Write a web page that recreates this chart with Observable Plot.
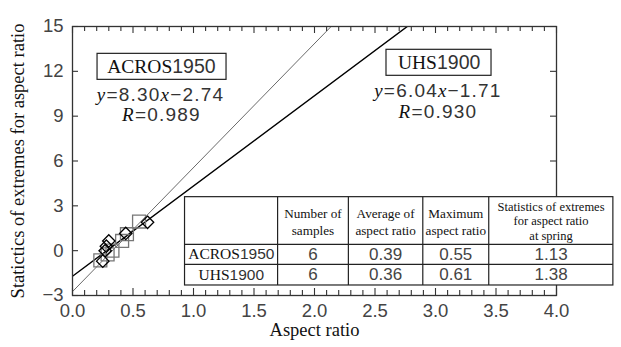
<!DOCTYPE html>
<html><head><meta charset="utf-8">
<script src="https://cdn.jsdelivr.net/npm/d3@7"></script>
<script src="https://cdn.jsdelivr.net/npm/@observablehq/plot@0.6"></script>
<style>body{margin:0;background:#fff}</style>
</head><body><div id="chart"></div>
<script>
// ---- data ----
const seriesNames = ["ACROS1950", "UHS1900"];
const acrosX = [0.23, 0.29, 0.33, 0.41, 0.45, 0.55];
const acrosY = [-0.65, -0.25, 0.0, 0.65, 1.1, 1.95];
const uhsX = [0.25, 0.27, 0.28, 0.30, 0.44, 0.62];
const uhsY = [-0.7, 0.0, 0.3, 0.65, 1.15, 1.9];
const slopes = [8.30, 6.04];
const intercepts = [-2.74, -1.71];
const rValues = ["0.989", "0.930"];
const xTickLabels = [0, 0.5, 1, 1.5, 2, 2.5, 3, 3.5, 4];
const yTickLabels = [-3, 0, 3, 6, 9, 12, 15];
const xMinorTicks = [0,0.1,0.2,0.3,0.4,0.5,0.6,0.7,0.8,0.9,1,1.1,1.2,1.3,1.4,1.5,1.6,1.7,1.8,1.9,2,2.1,2.2,2.3,2.4,2.5,2.6,2.7,2.8,2.9,3,3.1,3.2,3.3,3.4,3.5,3.6,3.7,3.8,3.9,4];
const tableHeaders = ["", "Number of\nsamples", "Average of\naspect ratio", "Maximum\naspect ratio", "Statistics of extremes\nfor aspect ratio\nat spring"];
const tableRows = [
  ["ACROS1950", "6", "0.39", "0.55", "1.13"],
  ["UHS1900", "6", "0.36", "0.61", "1.38"]
];
const xLabel = "Aspect ratio";
const yLabel = "Statictics of extremes for aspect ratio";

// ---- derived tables ----
const acros = acrosX.map((x, i) => ({x, y: acrosY[i]}));
const uhs = uhsX.map((x, i) => ({x, y: uhsY[i]}));
const fitLines = seriesNames.flatMap((s, i) => [0, 4].map(x => ({s, x, y: slopes[i] * x + intercepts[i]})));
const fmt = v => v.toFixed(2);
const eqText = seriesNames.map((s, i) => `y=${fmt(slopes[i])}x−${fmt(-intercepts[i])}`);
const rText = rValues.map(r => `R=${r}`);

// ---- layout (data units of the frame) ----
const colB = [0.93, 1.695, 2.28, 2.895, 3.44, 4.47];
const rowB = [3.58, 0.42, -0.92, -2.33];
const colC = colB.slice(0, -1).map((b, i) => (b + colB[i + 1]) / 2);
const rowC = rowB.slice(0, -1).map((b, i) => (b + rowB[i + 1]) / 2);
const headerCells = tableHeaders.map((t, j) => ({t, x: colC[j], y: rowC[0]})).filter(d => d.t);
const bodyCells = tableRows.flatMap((r, i) => r.map((t, j) => ({t, x: colC[j], y: rowC[i + 1], label: j === 0})));

const SERIF = "'Liberation Serif', 'Times New Roman', serif";
const SANS = "'Liberation Sans', Arial, sans-serif";
const hx = 6 / 121, vMinor = 5 / 14.94, vMajor = 7 / 14.94;
const isMajor = d => Math.abs(d * 2 - Math.round(d * 2)) < 1e-6;

const chart = Plot.plot({
  width: 621, height: 347,
  marginLeft: 72, marginRight: 65, marginTop: 26, marginBottom: 52,
  x: {domain: [0, 4]},
  y: {domain: [-3, 15]},
  style: {fontFamily: SANS, background: "#fff"},
  marks: [
    Plot.line(fitLines.filter(d => d.s === seriesNames[0]), {x: "x", y: "y", stroke: "#6a6a6a", strokeWidth: 1, clip: true}),
    Plot.line(fitLines.filter(d => d.s === seriesNames[1]), {x: "x", y: "y", stroke: "#000", strokeWidth: 1.4, clip: true}),
    Plot.dot(acros, {x: "x", y: "y", symbol: "square", r: 7.3, stroke: "#777", strokeWidth: 1.3, fill: "none"}),
    Plot.dot(uhs, {x: "x", y: "y", symbol: "diamond2", r: 5.6, stroke: "#000", strokeWidth: 1.3, fill: "none"}),
    Plot.frame({stroke: "#333", strokeWidth: 1.3}),
    // inward ticks
    Plot.ruleX(xMinorTicks, {x: d => d, y1: -3, y2: d => -3 + (isMajor(d) ? vMajor : vMinor), stroke: "#333", strokeWidth: 1.1}),
    Plot.ruleX(xMinorTicks, {x: d => d, y1: 15, y2: d => 15 - (isMajor(d) ? vMajor : vMinor), stroke: "#333", strokeWidth: 1.1}),
    Plot.ruleY(yTickLabels, {y: d => d, x1: 0, x2: hx, stroke: "#333", strokeWidth: 1.1}),
    Plot.ruleY(yTickLabels, {y: d => d, x1: 4, x2: 4 - hx, stroke: "#333", strokeWidth: 1.1}),
    Plot.axisX({ticks: xTickLabels, tickSize: 0, tickPadding: 8, tickFormat: d3.format(".1f"), fontSize: 18.5, label: null, color: "#444"}),
    Plot.axisY({ticks: yTickLabels, tickSize: 0, tickPadding: 9, tickFormat: d3.format("d"), fontSize: 18.5, label: null, color: "#444"}),
    Plot.text([yLabel], {text: d => d, frameAnchor: "left", textAnchor: "middle", dx: -54, rotate: -90, fontSize: 18.5, fontFamily: SERIF, fill: "#111"}),
    Plot.text([xLabel], {text: d => d, frameAnchor: "bottom", textAnchor: "middle", dy: 40, fontSize: 18.5, fontFamily: SERIF, fill: "#111"}),
    // annotation boxes
    Plot.rect([0], {x1: 0.207, x2: 1.273, y1: 11.43, y2: 13.17, fill: "#fff", stroke: "#222", strokeWidth: 1.2}),
    Plot.rect([0], {x1: 2.595, x2: 3.463, y1: 11.70, y2: 13.44, fill: "#fff", stroke: "#222", strokeWidth: 1.2}),
    Plot.text([seriesNames[0]], {text: d => d, x: 0.735, y: 12.28, fontSize: 19.5}),
    Plot.text([eqText[0]], {text: d => d, x: 0.728, y: 10.42, fontSize: 19}),
    Plot.text([rText[0]], {text: d => d, x: 0.735, y: 9.08, fontSize: 19}),
    Plot.text([seriesNames[1]], {text: d => d, x: 3.03, y: 12.55, fontSize: 19.5}),
    Plot.text([eqText[1]], {text: d => d, x: 3.02, y: 10.69, fontSize: 19}),
    Plot.text([rText[1]], {text: d => d, x: 3.02, y: 9.28, fontSize: 19}),
    // table
    Plot.rect([0], {x1: colB[0], x2: colB[colB.length - 1], y1: rowB[rowB.length - 1], y2: rowB[0], fill: "#fff", stroke: "#222", strokeWidth: 1.2}),
    Plot.ruleY(rowB.slice(1, -1), {y: d => d, x1: colB[0], x2: colB[colB.length - 1], stroke: "#222", strokeWidth: 1.2}),
    Plot.ruleX(colB.slice(1, -1), {x: d => d, y1: rowB[0], y2: rowB[rowB.length - 1], stroke: "#222", strokeWidth: 1.2}),
    Plot.text(headerCells.filter(d => d.x < 3.5), {x: "x", y: "y", text: "t", fontSize: 13.2, fontFamily: SERIF, fill: "#111", lineHeight: 1.35}),
    Plot.text(headerCells.filter(d => d.x > 3.5), {x: "x", y: "y", text: "t", fontSize: 12.5, fontFamily: SERIF, fill: "#111", lineHeight: 1.15}),
    Plot.text(bodyCells, {x: "x", y: "y", text: "t", fontSize: d => d.label ? 15.5 : 17, fill: "#444"})
  ]
});

// mixed-font rich text for names and equations
const richSet = new Set([...seriesNames, ...eqText, ...rText]);
function parts(s) {
  const eq = /^[yR]=/.test(s);
  const out = [];
  for (const ch of s) {
    let c;
    if (eq) c = /[xyR]/.test(ch) ? "it" : "sans";
    else c = /[A-Za-z]/.test(ch) ? "serif" : "sans";
    if (out.length && out[out.length - 1].c === c) out[out.length - 1].t += ch;
    else out.push({t: ch, c});
  }
  return out;
}
d3.select(chart).selectAll("text").each(function () {
  if (this.querySelector("tspan")) return;
  const s = this.textContent;
  if (!richSet.has(s)) return;
  const el = d3.select(this);
  const eq = /^[yR]=/.test(s);
  el.text(null);
  if (eq) el.attr("letter-spacing", "1.2");
  for (const p of parts(s)) {
    const ts = el.append("tspan").text(p.t);
    if (p.c === "sans") ts.attr("font-family", SANS).attr("fill", "#333");
    else ts.attr("font-family", SERIF).attr("fill", "#111").attr("font-style", p.c === "it" ? "italic" : null);
  }
});

document.getElementById("chart").appendChild(chart);
</script>
</body></html>
